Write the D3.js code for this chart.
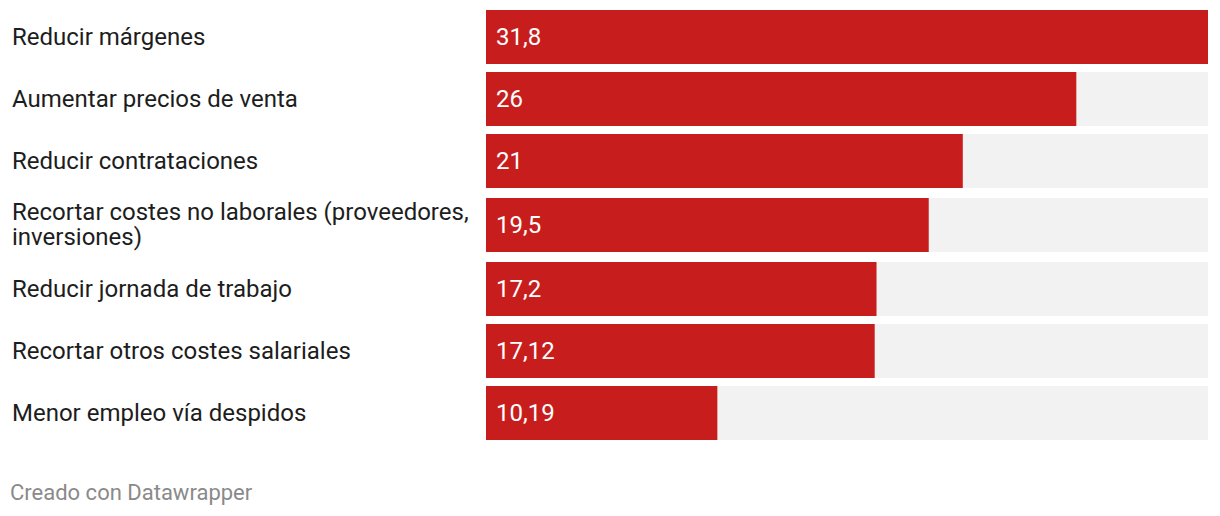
<!DOCTYPE html>
<html>
<head>
<meta charset="utf-8">
<script src="https://cdn.jsdelivr.net/npm/d3@7"></script>
<style>
  html, body { margin: 0; padding: 0; background: #fff; }
  svg { display: block; }
  text { font-family: Roboto, "Noto Sans", sans-serif; }
</style>
</head>
<body>
<script>
const categories = [
  "Reducir márgenes",
  "Aumentar precios de venta",
  "Reducir contrataciones",
  "Recortar costes no laborales (proveedores, inversiones)",
  "Reducir jornada de trabajo",
  "Recortar otros costes salariales",
  "Menor empleo vía despidos"
];
const values = [31.8, 26, 21, 19.5, 17.2, 17.12, 10.19];
const valueLabels = ["31,8", "26", "21", "19,5", "17,2", "17,12", "10,19"];
const footerText = "Creado con Datawrapper";

(function () {
const W = 1220, H = 516;
const labelX = 12, labelMaxW = 470;
const barX0 = 486, barX1 = 1208;
const barH = 54, gap = 8, topY = 10;
const fontSize = 24, lineH = 25, pad = 4, baseOff = 7.5;
const red = "#c71e1d", bg = "#f2f2f2";

const svg = d3.select("body").append("svg").attr("width", W).attr("height", H);

const measurer = svg.append("text").attr("font-size", fontSize).attr("visibility", "hidden");
function wrap(str) {
  const words = str.split(" ");
  const lines = [];
  let cur = "";
  words.forEach(w => {
    const test = cur ? cur + " " + w : w;
    measurer.text(test);
    if (measurer.node().getComputedTextLength() > labelMaxW && cur) {
      lines.push(cur); cur = w;
    } else cur = test;
  });
  if (cur) lines.push(cur);
  return lines;
}
const wrapped = categories.map(wrap);
measurer.remove();

const slotH = wrapped.map(l => Math.max(barH, l.length * lineH + 2 * pad));
const starts = [];
let acc = topY;
slotH.forEach((h) => { starts.push(acc); acc += h + gap; });

const x = d3.scaleLinear().domain([0, d3.max(values)]).range([barX0, barX1]);

const rows = svg.selectAll("g.row").data(categories.map((c, i) => ({
  c, i, v: values[i], lbl: valueLabels[i], lines: wrapped[i],
  y: starts[i] + (slotH[i] - barH) / 2, cy: starts[i] + slotH[i] / 2
}))).join("g").attr("class", "row");

rows.append("rect")
  .attr("x", x(0)).attr("y", d => d.y)
  .attr("width", x.range()[1] - x(0)).attr("height", barH)
  .attr("fill", bg);

rows.append("rect")
  .attr("x", x(0)).attr("y", d => d.y)
  .attr("width", d => x(d.v) - x(0)).attr("height", barH)
  .attr("fill", red);

rows.append("text")
  .attr("x", x(0) + 10)
  .attr("y", d => d.cy + baseOff)
  .attr("font-size", fontSize)
  .attr("fill", "#fff")
  .text(d => d.lbl);

rows.each(function(d) {
  const t = d3.select(this).append("text")
    .attr("font-size", fontSize).attr("fill", "#1d1d1d");
  const first = d.cy + baseOff - (d.lines.length - 1) * lineH / 2;
  d.lines.forEach((ln, k) => {
    t.append("tspan").attr("x", labelX).attr("y", first + k * lineH).text(ln);
  });
});

svg.append("text")
  .attr("x", 10).attr("y", 500)
  .attr("font-size", 22).attr("fill", "#8a8a8a")
  .text(footerText);
})();
</script>
</body>
</html>
